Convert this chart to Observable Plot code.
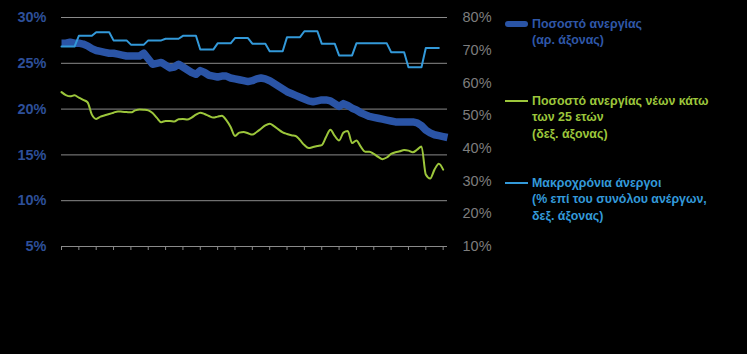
<!DOCTYPE html>
<html>
<head>
<meta charset="utf-8">
<script src="https://cdn.jsdelivr.net/npm/d3@7"></script>
<script src="https://cdn.jsdelivr.net/npm/@observablehq/plot@0.6"></script>
<style>
  html, body { margin: 0; padding: 0; background: #000; }
  #wrap { position: relative; width: 747px; height: 354px; background: #000; overflow: hidden; }
  #wrap svg { display: block; }
  .leg { position: absolute; font-family: "Liberation Sans", Arial, sans-serif; font-weight: bold; font-size: 12.4px; line-height: 16.5px; white-space: nowrap; }
  .sw { position: absolute; }
</style>
</head>
<body>
<div id="wrap"></div>
<script>
// Monthly x index (ticks every 4 months)
const unemploymentRate = [
  27.2,27.2,27.3,27.2,27.2,27.1,26.9,26.6,26.4,26.3,
  26.2,26.1,26.1,26.0,25.9,25.8,25.8,25.8,25.8,26.1,
  25.5,24.9,25.0,25.1,24.8,24.5,24.6,24.9,24.6,24.3,
  24.0,23.8,24.2,24.0,23.7,23.6,23.5,23.6,23.6,23.4,
  23.3,23.2,23.1,23.0,23.1,23.3,23.4,23.3,23.1,22.8,
  22.5,22.2,21.9,21.7,21.5,21.3,21.1,20.9,20.8,20.9,
  21.0,21.0,20.9,20.6,20.3,20.6,20.4,20.1,19.9,19.6,
  19.4,19.2,19.1,19.0,18.9,18.8,18.7,18.6,18.6,18.6,
  18.6,18.6,18.5,18.2,17.7,17.4,17.2,17.1,17.0,16.9
];
const youthUnemployment = [
  57.2,56.3,55.9,56.2,55.5,54.8,54.1,50.3,49.0,49.7,
  50.1,50.5,50.9,51.3,51.2,51.1,51.0,51.6,51.9,51.8,
  51.6,50.8,49.3,48.0,48.4,48.4,48.2,48.9,49.0,48.8,
  49.4,50.3,50.9,50.5,49.9,49.4,49.7,50.0,48.6,46.5,
  43.8,44.8,45.0,44.6,44.2,45.0,46.0,47.0,47.5,46.8,
  45.8,44.9,44.4,44.0,43.8,42.5,41.0,40.1,40.4,40.7,
  41.0,43.5,45.7,43.8,42.4,44.8,45.3,41.6,42.4,40.5,
  39.0,39.0,38.3,37.4,36.7,37.2,38.3,38.8,39.1,39.5,
  39.3,38.8,39.6,40.6,32.0,30.8,33.5,35.3,33.5
];
// Long-term unemployed share: one value per 4-month period
const longTermLevels = [71.1,74.4,75.5,73.0,71.7,73.0,73.5,74.4,70.2,72.1,73.7,72.0,69.7,74.0,75.8,72.0,68.4,72.1,72.1,69.4,64.8,70.7];

const leftTicks = [5,10,15,20,25,30];
const rightTicks = [10,20,30,40,50,60,70,80];
const xTicks = d3.range(0, 89, 4);

// right-axis (10..80) -> left-axis (5..30)
const toLeft = v => 5 + (v - 10) * 25 / 70;
const fromLeft = v => 10 + (v - 5) * 70 / 25;

const blueData = unemploymentRate.map((v, i) => ({m: i, v}));
const greenData = youthUnemployment.map((v, i) => ({m: i, v: toLeft(v)}));
const lightData = [];
longTermLevels.forEach((v, k) => { for (let j = 0; j < 4; j++) lightData.push({m: 4 * k + j, v: toLeft(v)}); });

const cBlue = "#2a54a6", cGreen = "#9cc63b", cLight = "#3399d9", cGrid = "#8a8a8a";

const chart = Plot.plot({
  width: 747, height: 354,
  marginLeft: 61, marginRight: 300, marginTop: 17, marginBottom: 108,
  style: {background: "#000", fontFamily: "Liberation Sans, Arial, sans-serif"},
  x: {domain: [0, 89], axis: null},
  y: {domain: [5, 30], axis: null},
  marks: [
    Plot.ruleY(leftTicks, {stroke: cGrid, strokeWidth: 1}),
    Plot.axisX(xTicks, {tickSize: 4, tickFormat: () => "", stroke: cGrid, label: null}),
    Plot.axisY(leftTicks, {anchor: "left", tickSize: 0, tickPadding: 15, tickFormat: d => d + "%", fill: "#2d4f99", fontWeight: "bold", fontSize: 14.5, label: null}),
    Plot.axisY(rightTicks.map(toLeft), {anchor: "right", tickSize: 0, tickPadding: 15, tickFormat: d => Math.round(fromLeft(d)) + "%", fill: "#7d7d7d", fontSize: 14.5, label: null}),
    Plot.line(blueData, {x: "m", y: "v", stroke: cBlue, strokeWidth: 7.5, strokeLinejoin: "round", strokeLinecap: "butt"}),
    Plot.line(greenData, {x: "m", y: "v", stroke: cGreen, strokeWidth: 2, curve: "monotone-x"}),
    Plot.line(lightData, {x: "m", y: "v", stroke: cLight, strokeWidth: 2})
  ]
});
const wrap = document.getElementById("wrap");
wrap.appendChild(chart);

// Legend
const legend = [
  {color: cBlue, text: "#2f57a8", w: 6, y: 24, lines: ["Ποσοστό ανεργίας", "(αρ. άξονας)"]},
  {color: cGreen, text: "#9cc63b", w: 2, y: 101, lines: ["Ποσοστό ανεργίας νέων κάτω", "των 25 ετών", "(δεξ. άξονας)"]},
  {color: cLight, text: "#3399d9", w: 2, y: 183, lines: ["Μακροχρόνια άνεργοι", "(% επί του συνόλου ανέργων,", "δεξ. άξονας)"]}
];
legend.forEach(it => {
  const sw = document.createElement("div");
  sw.className = "sw";
  Object.assign(sw.style, {left: "505px", width: "23px", top: (it.y - it.w / 2) + "px", height: it.w + "px", background: it.color, borderRadius: it.w > 3 ? "3px" : "0"});
  wrap.appendChild(sw);
  const t = document.createElement("div");
  t.className = "leg";
  Object.assign(t.style, {left: "532px", top: (it.y - 8.25) + "px", color: it.text});
  t.innerHTML = it.lines.join("<br>");
  wrap.appendChild(t);
});
</script>
</body>
</html>
